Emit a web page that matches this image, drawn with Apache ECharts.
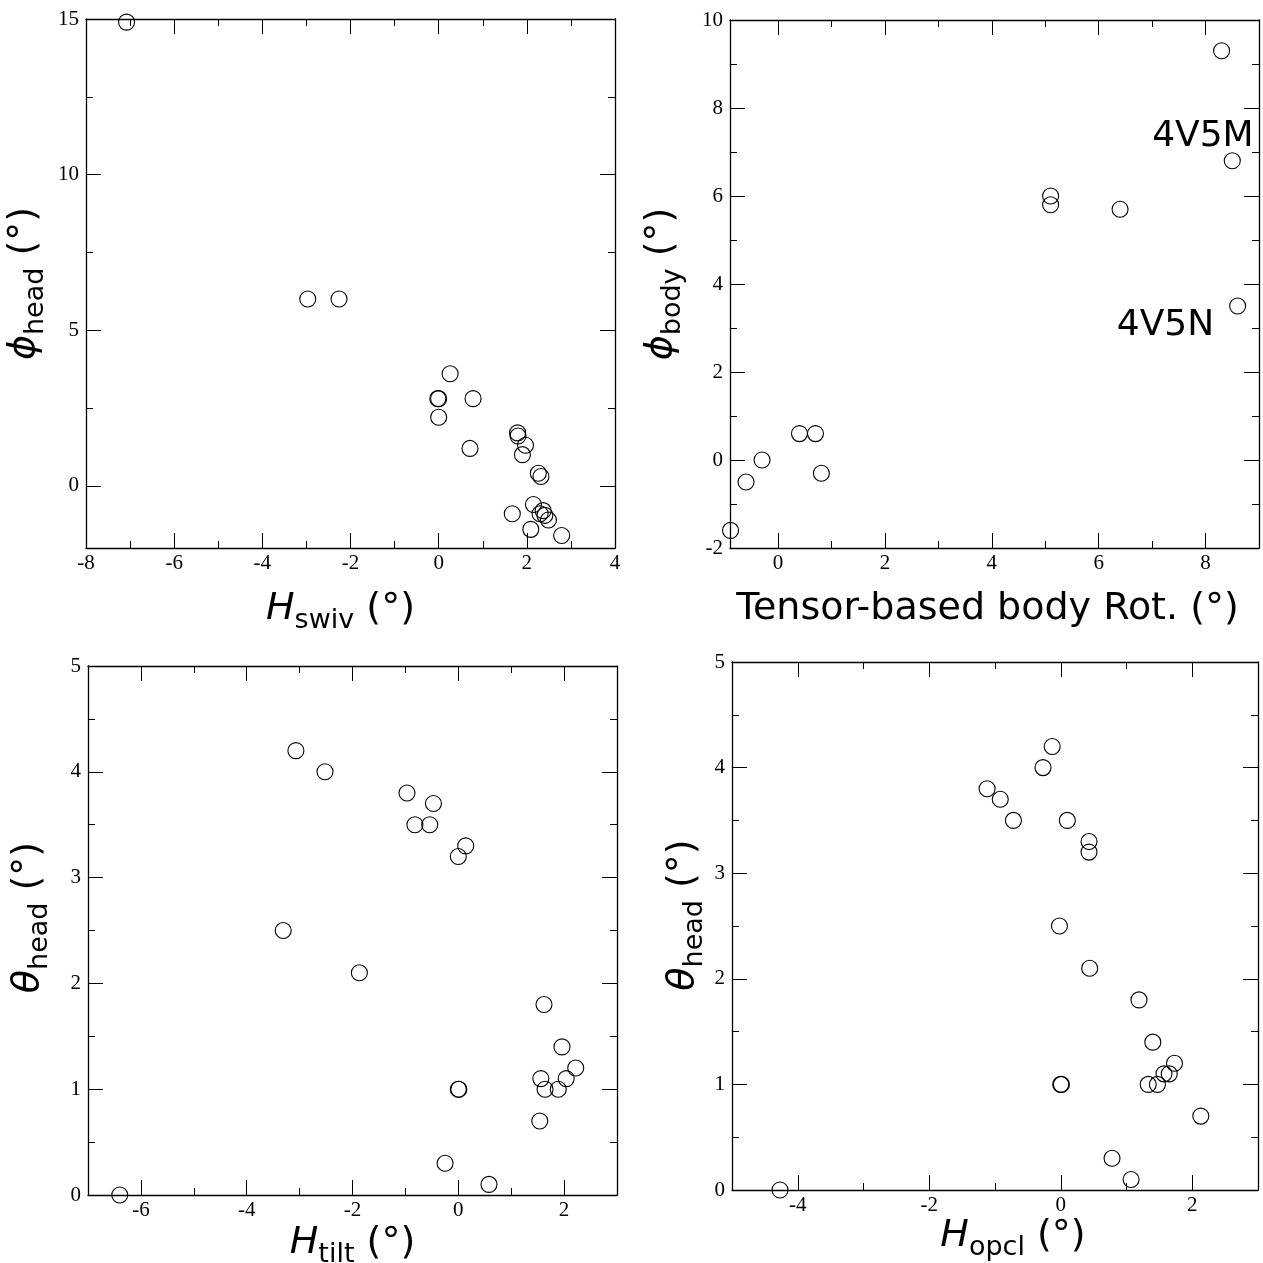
<!DOCTYPE html>
<html>
<head>
<meta charset="utf-8">
<title>Head and body rotation</title>
<script src="https://cdn.jsdelivr.net/npm/echarts@6/dist/echarts.min.js"></script>
<style>html,body{margin:0;padding:0;background:#fff}</style>
</head>
<body>
<div id="main" style="width:1263px;height:1263px;"></div>
<script>
// values
// top left: H_swiv vs phi_head
var swivX    = [-7.08, -2.97, -2.26, 0.26, 0.00, -0.02, 0.78, 0.00, 0.71, 1.79, 1.80, 1.97, 1.90, 2.26, 2.32, 2.15, 1.67, 2.37, 2.30, 2.41, 2.49, 2.09, 2.79];
var phiHeadY = [14.9, 6.0, 6.0, 3.6, 2.8, 2.8, 2.8, 2.2, 1.2, 1.7, 1.6, 1.3, 1.0, 0.4, 0.3, -0.6, -0.9, -0.8, -0.9, -0.95, -1.1, -1.4, -1.6];

// top right: tensor-based body rotation vs phi_body
var bodyRotX = [-0.89, -0.60, -0.30, 0.40, 0.70, 0.81, 5.10, 5.10, 6.40, 8.30, 8.50, 8.60];
var phiBodyY = [-1.6, -0.5, 0.0, 0.6, 0.6, -0.3, 6.0, 5.8, 5.7, 9.3, 6.8, 3.5];
var noteText = ['4V5M', '4V5N'];
var noteX = [7.95, 7.25];
var noteY = [7.35, 3.05];

// bottom left: H_tilt vs theta_head
var tiltX     = [-6.40, -3.07, -2.52, -3.31, -1.87, -0.97, -0.47, -0.82, -0.54, 0.00, 0.14, 0.00, 0.01, -0.25, 0.58, 1.62, 1.96, 2.22, 1.56, 2.04, 1.64, 1.89, 1.54];
var thetaTiltY = [0.0, 4.2, 4.0, 2.5, 2.1, 3.8, 3.7, 3.5, 3.5, 3.2, 3.3, 1.0, 1.0, 0.3, 0.1, 1.8, 1.4, 1.2, 1.1, 1.1, 1.0, 1.0, 0.7];

// bottom right: H_opcl vs theta_head
var opclX      = [-4.27, -1.12, -0.92, -0.72, -0.27, -0.13, 0.10, 0.43, 0.43, -0.02, 0.44, 0.00, 0.01, 1.19, 1.40, 1.73, 1.57, 1.65, 1.33, 1.47, 2.13, 0.78, 1.07];
var thetaOpclY = [0.0, 3.8, 3.7, 3.5, 4.0, 4.2, 3.5, 3.3, 3.2, 2.5, 2.1, 1.0, 1.0, 1.8, 1.4, 1.2, 1.1, 1.1, 1.0, 1.0, 0.7, 0.3, 0.1];

// tick positions
var p1XMajor = [-8, -6, -4, -2, 0, 2, 4],  p1XMinor = [-7, -5, -3, -1, 1, 3];
var p1YMajor = [0, 5, 10, 15],             p1YMinor = [2.5, 7.5, 12.5];
var p2XMajor = [0, 2, 4, 6, 8],            p2XMinor = [1, 3, 5, 7];
var p2YMajor = [-2, 0, 2, 4, 6, 8, 10],    p2YMinor = [-1, 1, 3, 5, 7, 9];
var p3XMajor = [-6, -4, -2, 0, 2],         p3XMinor = [-5, -3, -1, 1];
var p3YMajor = [0, 1, 2, 3, 4, 5],         p3YMinor = [0.5, 1.5, 2.5, 3.5, 4.5];
var p4XMajor = [-4, -2, 0, 2],             p4XMinor = [-3, -1, 1];
var p4YMajor = [0, 1, 2, 3, 4, 5],         p4YMinor = [0.5, 1.5, 2.5, 3.5, 4.5];

var chart = echarts.init(document.getElementById('main'));

var nameRich = {
    it:  { fontFamily: 'DejaVu Sans', fontStyle: 'italic', fontSize: 38, lineHeight: 50, color: '#000' },
    n:   { fontFamily: 'DejaVu Sans', fontSize: 38, lineHeight: 50, color: '#000' },
    sub: { fontFamily: 'DejaVu Sans', fontSize: 27, lineHeight: 50, verticalAlign: 'bottom', color: '#000' }
};

var xAxes = [], yAxes = [], series = [];

// one side of the frame: main axis (line, long ticks, labels) + minor ticks
function addSide(list, gi, pos, min, max, major, minor, showLabels, name, gap, pad) {
    var base = {
        type: 'value', gridIndex: gi, position: pos, min: min, max: max,
        splitLine: { show: false }, axisPointer: { show: false }
    };
    var main = Object.assign({}, base, {
        axisLine: { show: true, onZero: false, lineStyle: { color: '#000', width: 1.3 } },
        axisTick: { show: true, inside: true, length: 15, customValues: major, lineStyle: { color: '#000', width: 1 } },
        axisLabel: {
            show: showLabels, customValues: major, margin: (pos === 'left' ? 7 : 5),
            fontFamily: 'Liberation Serif', fontSize: 21, color: '#000'
        }
    });
    if (name) {
        main.name = name;
        main.nameLocation = 'middle';
        main.nameGap = gap;
        main.nameTextStyle = { fontFamily: 'DejaVu Sans', fontSize: 38, color: '#000', rich: nameRich, padding: pad || 0 };
    }
    list.push(main);
    list.push(Object.assign({}, base, {
        axisLine: { show: false, onZero: false },
        axisTick: { show: true, inside: true, length: 7, customValues: minor, lineStyle: { color: '#000', width: 1 } },
        axisLabel: { show: false, customValues: minor }
    }));
}

function zip(a, b) {
    return a.map(function (v, i) { return [v, b[i]]; });
}

function addPanel(gi, xr, yr, xMaj, xMin, yMaj, yMin, xName, xGap, xPad, yName, yGap, yPad, xs, ys) {
    addSide(xAxes, gi, 'bottom', xr[0], xr[1], xMaj, xMin, true, xName, xGap, xPad);
    addSide(xAxes, gi, 'top', xr[0], xr[1], xMaj, xMin, false);
    addSide(yAxes, gi, 'left', yr[0], yr[1], yMaj, yMin, true, yName, yGap, yPad);
    addSide(yAxes, gi, 'right', yr[0], yr[1], yMaj, yMin, false);
    series.push({
        type: 'scatter', xAxisIndex: gi * 4, yAxisIndex: gi * 4,
        data: zip(xs, ys), symbol: 'circle', symbolSize: 16,
        itemStyle: { color: 'rgba(0,0,0,0)', borderColor: '#000', borderWidth: 1.1, opacity: 1 },
        silent: true
    });
}

addPanel(0, [-8, 4], [-2, 15], p1XMajor, p1XMinor, p1YMajor, p1YMinor,
    '{it|H}{sub|swiv}{n| (°)}', 36, [0, 20, 0, 0],
    '{it|ϕ}{sub|head}{n| (°)}', 37, 0, swivX, phiHeadY);
addPanel(1, [-0.9, 9], [-2, 10], p2XMajor, p2XMinor, p2YMajor, p2YMinor,
    '{n|Tensor-based body Rot. (°)}', 36, [0, 14, 0, 0],
    '{it|ϕ}{sub|body}{n| (°)}', 44, 0, bodyRotX, phiBodyY);
addPanel(2, [-7, 3], [0, 5], p3XMajor, p3XMinor, p3YMajor, p3YMinor,
    '{it|H}{sub|tilt}{n| (°)}', 23, 0,
    '{it|θ}{sub|head}{n| (°)}', 35, [0, 0, 0, 26], tiltX, thetaTiltY);
addPanel(3, [-5, 3], [0, 5], p4XMajor, p4XMinor, p4YMajor, p4YMinor,
    '{it|H}{sub|opcl}{n| (°)}', 21, [0, 0, 0, 36],
    '{it|θ}{sub|head}{n| (°)}', 24, [0, 0, 0, 22], opclX, thetaOpclY);

// annotations in the top right panel
series.push({
    type: 'scatter', xAxisIndex: 4, yAxisIndex: 4, symbolSize: 1,
    itemStyle: { color: 'rgba(0,0,0,0)', opacity: 1 }, silent: true,
    data: noteText.map(function (t, i) { return [noteX[i], noteY[i], t]; }),
    label: {
        show: true, position: 'inside', formatter: function (p) { return p.value[2]; },
        fontFamily: 'DejaVu Sans', fontSize: 36, color: '#000', textBorderWidth: 0
    }
});

var option = {
    backgroundColor: '#fff',
    animation: false,
    grid: [
        { left: 86,  top: 19,  width: 529, height: 529, outerBoundsMode: 'none' },
        { left: 730, top: 20,  width: 529, height: 528, outerBoundsMode: 'none' },
        { left: 88,  top: 666, width: 529, height: 529, outerBoundsMode: 'none' },
        { left: 732, top: 662, width: 526, height: 528, outerBoundsMode: 'none' }
    ],
    xAxis: xAxes,
    yAxis: yAxes,
    series: series
};

chart.setOption(option);
</script>
</body>
</html>
